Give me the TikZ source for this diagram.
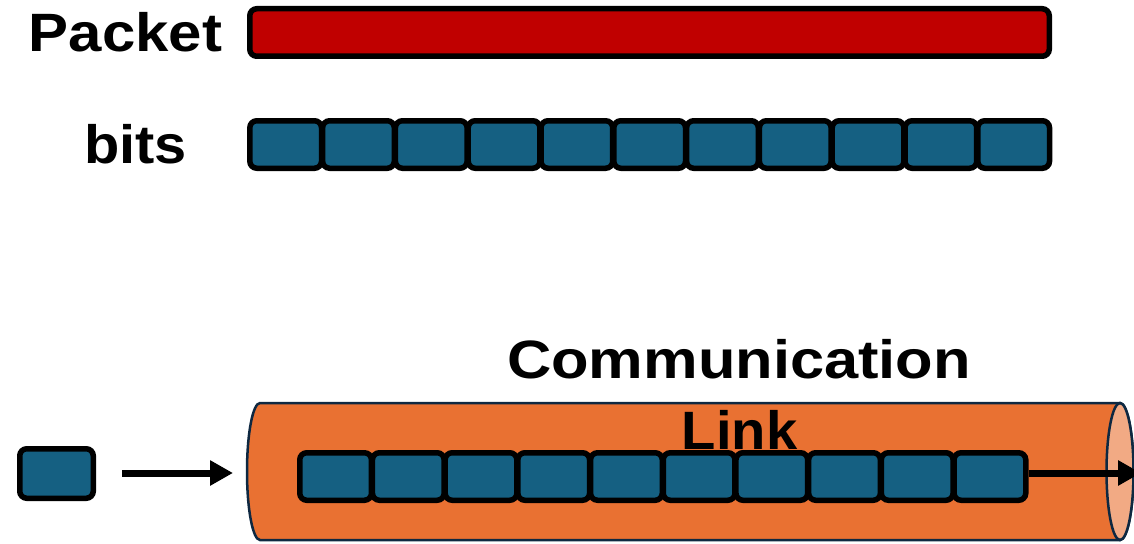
\documentclass[tikz,border=0pt]{standalone}
\usepackage{fontspec}
\setmainfont{Liberation Sans}
\usetikzlibrary{arrows.meta,shapes.geometric}
\definecolor{bitblue}{HTML}{156082}
\definecolor{pktred}{HTML}{C00000}
\definecolor{cylorange}{HTML}{E97132}
\definecolor{cyllight}{HTML}{F2AA84}
\definecolor{cyledge}{HTML}{0E2841}
\tikzset{
  bitbox/.style={draw=black, fill=bitblue, line width=5.5pt, rounded corners=7pt,
    minimum width=71.7pt, minimum height=47.5pt, inner sep=0pt},
  pktbox/.style={draw=black, fill=pktred, line width=5.5pt, rounded corners=7pt,
    minimum width=799.5pt, minimum height=47.5pt, inner sep=0pt},
  lbl/.style={font=\fontsize{54pt}{60pt}\selectfont\bfseries, anchor=base, inner sep=0pt},
  arr/.style={line width=7pt, -{Triangle[length=23pt,width=24pt]}},
  cyl/.style={draw=cyledge, line width=2.5pt}
}
\begin{document}
\begin{tikzpicture}[x=1pt,y=-1pt]
\useasboundingbox (0,0) rectangle (1134,543);
% labels
\node[lbl] (tpacket) at (125.5,52) {\scalebox{1.11}[1]{Packet}};
\node[lbl] (tbits) at (135.5,163) {\scalebox{1.07}[1]{bits}};
\node[lbl] (tcomm) at (739,378) {\scalebox{1.137}[1]{Communication}};
% packet bar
\node[pktbox] (packet) at (649.5,32.5) {};
% bits row
\foreach \i in {0,...,10} {
  \node[bitbox] (b\i) at ({285.65+72.8*\i},144.5) {};
}
% cylinder body
\path[cyl, fill=cylorange] (260,403) -- (1120,403) arc (-90:90:13.5 and 68.5)
  -- (260,540) arc (90:270:13 and 68.5) -- cycle;
\node[draw=cyledge, line width=2.5pt, fill=cyllight, ellipse, minimum width=27pt,
  minimum height=137pt, inner sep=0pt] (cylend) at (1120,471.5) {};
\node[lbl] (tlink) at (739.5,449) {\scalebox{1.04}[1]{Link}};
% bits in the link
\foreach \i in {0,...,9} {
  \node[bitbox] (c\i) at ({335.6+72.7*\i},476.5) {};
}
% single bit
\node[bitbox, minimum width=73.5pt, minimum height=49.5pt] (sb) at (56.5,473.5) {};
\coordinate (cylin) at (233,473);
\coordinate (cylout) at (1141,473);
\draw[arr, shorten <=26pt] (sb.east |- cylin) -- (cylin);
\draw[arr] (c9.east |- cylout) -- (cylout);
\end{tikzpicture}
\end{document}
